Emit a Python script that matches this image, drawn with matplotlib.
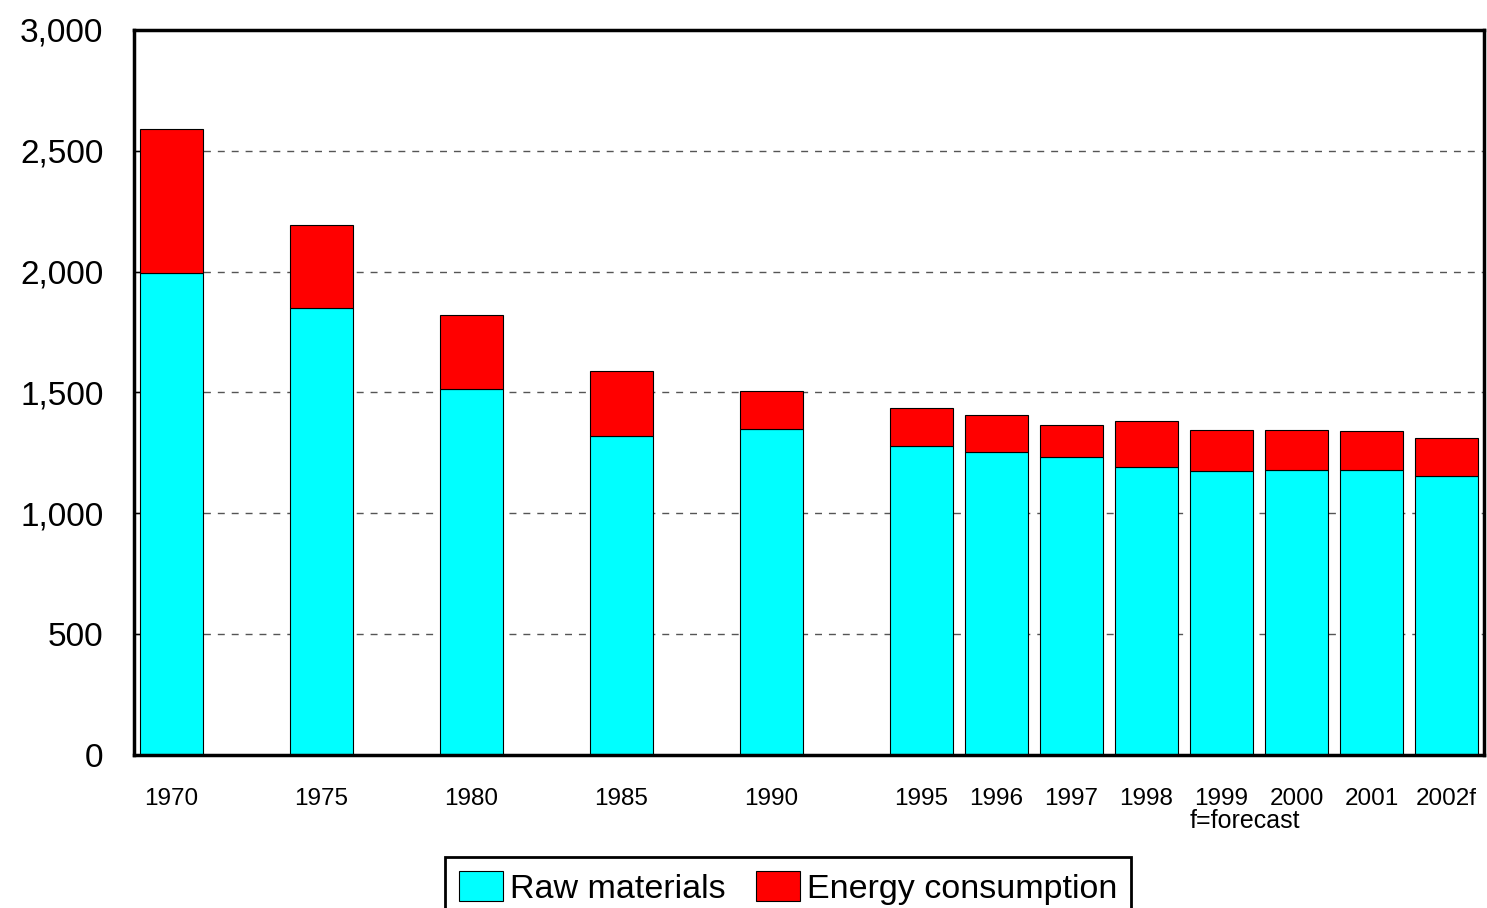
import matplotlib.pyplot as plt
from matplotlib.ticker import FuncFormatter
import numpy as np

years = ['1970', '1975', '1980', '1985', '1990', '1995', '1996', '1997', '1998', '1999', '2000', '2001', '2002f']
slots = [0, 2, 4, 6, 8, 10, 11, 12, 13, 14, 15, 16, 17]
raw_materials = [1995, 1850, 1515, 1320, 1350, 1280, 1255, 1235, 1190, 1175, 1180, 1180, 1155]
totals = [2590, 2195, 1820, 1590, 1505, 1435, 1405, 1365, 1380, 1345, 1345, 1340, 1310]
energy = [t - r for t, r in zip(totals, raw_materials)]

plt.rcParams['font.family'] = ['Liberation Sans Narrow', 'Liberation Sans', 'DejaVu Sans']

fig = plt.figure(figsize=(14.87, 9.08), dpi=100)
ax = fig.add_axes([134/1487, 1 - 755/908, 1350/1487, 725/908])

x = np.array(slots)
ax.bar(x, raw_materials, width=0.85, color='#00FFFF', edgecolor='black', linewidth=0.8,
       label='Raw materials', zorder=2)
ax.bar(x, energy, width=0.85, bottom=raw_materials, color='#FF0000', edgecolor='black',
       linewidth=0.8, label='Energy consumption', zorder=2)

ax.set_xlim(-0.5, 17.5)
ax.set_ylim(0, 3000)
ax.set_yticks(np.arange(0, 3001, 500))
ax.yaxis.set_major_formatter(FuncFormatter(lambda v, p: f'{int(v):,}'))
ax.tick_params(axis='y', direction='in', length=5, width=1, labelsize=24, pad=22)
ax.set_xticks(x)
ax.set_xticklabels(years)
ax.tick_params(axis='x', length=0, labelsize=17.5, pad=24)
ax.yaxis.grid(True, linestyle=(0, (5, 5)), color='#555555', linewidth=1, zorder=0)
ax.set_axisbelow(True)
for s in ax.spines.values():
    s.set_linewidth(2.5)

fig.text(1245/1487, 1 - 821/908, 'f=forecast', ha='center', va='center', fontsize=18)

leg = fig.legend(loc='lower center', bbox_to_anchor=(788/1487, -0.03), ncol=2, fontsize=24.5,
                 frameon=True, fancybox=False, edgecolor='black', framealpha=1,
                 handlelength=1.3, handleheight=1.0, handletextpad=0.2, columnspacing=0.9,
                 borderpad=0.4)
leg.get_frame().set_linewidth(2)

fig.savefig('out.png', dpi=100)
